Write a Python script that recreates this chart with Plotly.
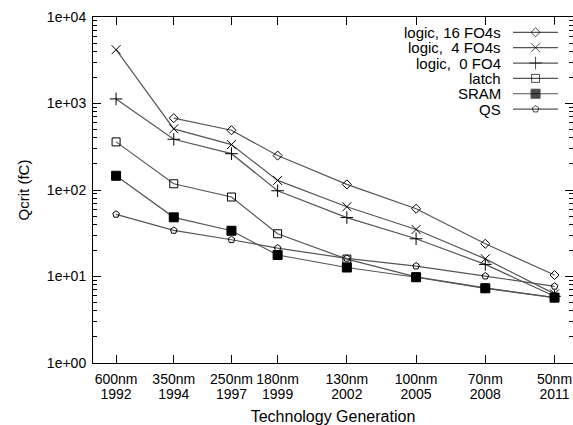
import plotly.graph_objects as go

# ---- data ----
nodes = ["600nm", "350nm", "250nm", "180nm", "130nm", "100nm", "70nm", "50nm"]
years = ["1992", "1994", "1997", "1999", "2002", "2005", "2008", "2011"]
gen_pos = [0, 1, 2, 2.8, 4, 5.2, 6.4, 7.6]

logic16 = [None, 677, 491, 250, 116, 60.7, 23.9, 10.4]
logic4 = [4190, 509, 335, 129, 64, 35, 16.0, 6.3]
logic0 = [1130, 386, 263, 98, 48, 27.3, 13.8, 5.9]
latch = [360, 118, 83, 31.2, 15.9, 9.9, 7.4, 5.7]
sram = [146, 48.3, 33.8, 17.7, 12.7, 9.8, 7.3, 5.7]
qs = [52.3, 34.1, 26.6, 21.3, 16.2, 13.2, 10.1, 7.7]

series_names = ["logic, 16 FO4s", "logic,  4 FO4s", "logic,  0 FO4", "latch", "SRAM", "QS"]
series_vals = [logic16, logic4, logic0, latch, sram, qs]
symbols = ["diamond-open", "x-thin-open", "cross-thin-open", "square-open", "square", "pentagon-open"]
sizes = [7, 9, 9, 8, 9, 7]

y_tickvals = [1, 10, 100, 1000, 10000]
y_ticktext = ["1e+00", "1e+01", "1e+02", "1e+03", "1e+04"]

FONT = "Liberation Sans, Arial, Helvetica, sans-serif"
LINE = "#555555"
X_RANGE = [-0.4, 7.92]

fig = go.Figure()
for name, vals, sym, sz in zip(series_names, series_vals, symbols, sizes):
    fig.add_trace(go.Scatter(
        x=gen_pos, y=vals, mode="lines+markers", name=name,
        line=dict(color=LINE, width=1.2),
        marker=dict(symbol=sym, size=sz, color="black",
                    line=dict(color="black", width=1)),
        showlegend=False, connectgaps=False,
        xaxis="x", yaxis="y",
    ))

# custom legend (text left of sample, as in original)
for i, (name, sym, sz) in enumerate(zip(series_names, symbols, sizes)):
    fig.add_trace(go.Scatter(
        x=[0, 0.5, 1], y=[i, i, i], mode="lines+markers",
        line=dict(color=LINE, width=1.2),
        marker=dict(symbol=sym, size=[0, sz, 0], color="black",
                    line=dict(color="black", width=1)),
        showlegend=False, hoverinfo="skip",
        xaxis="x2", yaxis="y2",
    ))
    fig.add_annotation(x=0.854, xref="paper", y=i, yref="y2", text=name,
                       showarrow=False, xanchor="right", yanchor="middle",
                       font=dict(family=FONT, size=15, color="black"))

fig.update_layout(
    width=573, height=425,
    margin=dict(l=93, r=0, t=17, b=62),
    paper_bgcolor="white", plot_bgcolor="white",
    font=dict(family=FONT, size=14, color="black"),
    xaxis=dict(
        range=X_RANGE, tickvals=gen_pos, ticktext=nodes, tickangle=0,
        ticklabeloverflow="allow", ticklabelstandoff=3,
        ticks="inside", ticklen=8, tickcolor="black",
        showline=True, linecolor="black", linewidth=1, mirror="ticks",
        showgrid=False, zeroline=False, automargin=False,
        title=dict(text="Technology Generation", font=dict(size=16), standoff=28),
    ),
    xaxis3=dict(
        overlaying="x", side="bottom", anchor="y", matches="x",
        range=X_RANGE, tickvals=gen_pos, ticktext=years, tickangle=0,
        ticklabeloverflow="allow", ticklabelstandoff=21,
        ticks="", showline=False, showgrid=False, zeroline=False, automargin=False,
    ),
    yaxis=dict(
        type="log", range=[0, 4], tickvals=y_tickvals, ticktext=y_ticktext,
        ticklabelstandoff=3,
        ticks="inside", ticklen=8, tickcolor="black",
        minor=dict(ticks="inside", ticklen=4, tickcolor="black", dtick="D1", showgrid=False),
        showline=True, linecolor="black", linewidth=1, mirror="ticks",
        showgrid=False, zeroline=False, automargin=False,
        title=dict(text="Qcrit (fC)", font=dict(size=15), standoff=13),
    ),
    xaxis2=dict(domain=[0.875, 0.969], range=[0, 1], visible=False, anchor="y2"),
    yaxis2=dict(domain=[0.7117, 0.9779], range=[5.5, -0.5], visible=False, anchor="x2"),
)

# invisible helper trace so the year axis is drawn
fig.add_trace(go.Scatter(x=[gen_pos[0]], y=[None], xaxis="x3", yaxis="y",
                         showlegend=False, hoverinfo="skip", mode="markers"))

fig.write_html(
    "out.html",
    config={"displayModeBar": False},
    post_script="document.body.style.margin='0';document.body.style.overflow='hidden';",
)
